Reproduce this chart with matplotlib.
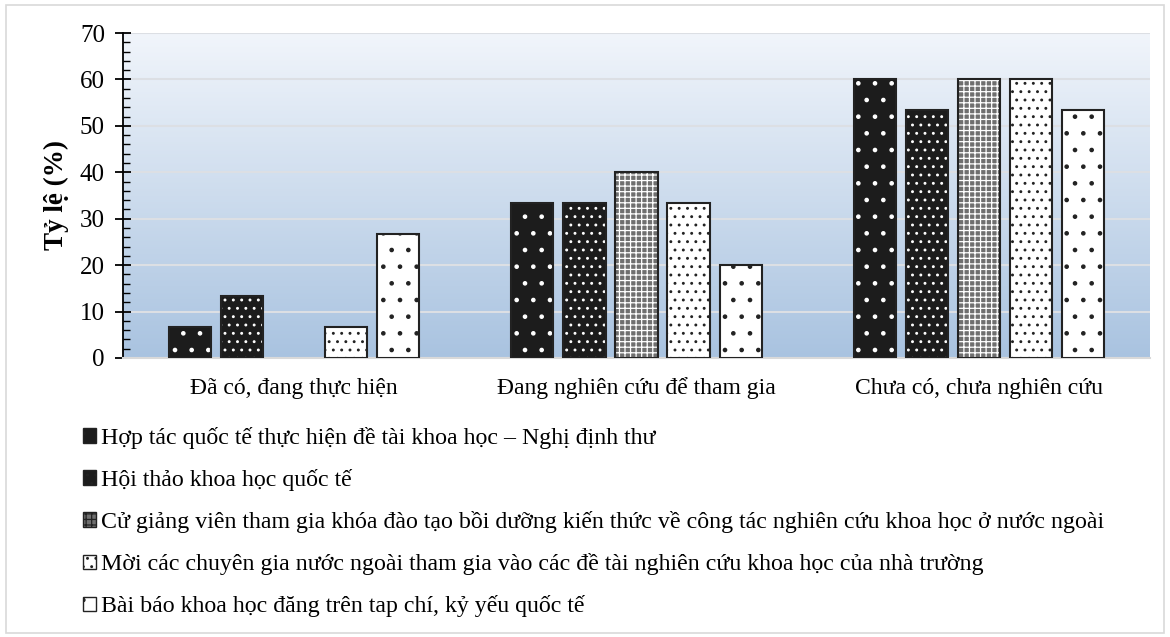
import matplotlib.pyplot as plt
import numpy as np
from matplotlib.patches import Patch, Rectangle
from matplotlib.colors import LinearSegmentedColormap

plt.rcParams['font.family'] = ['Liberation Serif', 'DejaVu Serif']
plt.rcParams['hatch.linewidth'] = 0.9

categories = ['Đã có, đang thực hiện', 'Đang nghiên cứu để tham gia', 'Chưa có, chưa nghiên cứu']
series_names = [
    'Hợp tác quốc tế thực hiện đề tài khoa học – Nghị định thư',
    'Hội thảo khoa học quốc tế',
    'Cử giảng viên tham gia khóa đào tạo bồi dưỡng kiến thức về công tác nghiên cứu khoa học ở nước ngoài',
    'Mời các chuyên gia nước ngoài tham gia vào các đề tài nghiên cứu khoa học của nhà trường',
    'Bài báo khoa học đăng trên tap chí, kỷ yếu quốc tế',
]
values = [
    [6.67, 33.33, 60.0],
    [13.33, 33.33, 53.33],
    [0.0, 40.0, 60.0],
    [6.67, 33.33, 60.0],
    [26.67, 20.0, 53.33],
]
y_ticks = [0, 10, 20, 30, 40, 50, 60, 70]

# face colour, hatch, hatch colour
styles = [
    ('#1c1c1c', '.', 'white'),
    ('#1c1c1c', '..', 'white'),
    ('#6f6f6f', '+++', 'white'),
    ('white', '..', '#222222'),
    ('white', '.', '#222222'),
]

fig = plt.figure(figsize=(11.7, 6.37), dpi=100)
fig.patches.append(Rectangle((0.005, 0.007), 0.99, 0.985, transform=fig.transFigure,
                             fill=False, edgecolor='#d9d9d9', linewidth=1.2))
ax = fig.add_axes([123 / 1170, 1 - 358 / 637, (1150 - 123) / 1170, (358 - 33) / 637])

# gradient background
cmap = LinearSegmentedColormap.from_list('bg', ['#a9c3e0', '#f1f5fb'])
grad = np.linspace(0, 1, 256).reshape(-1, 1)
ax.imshow(grad, cmap=cmap, aspect='auto', origin='lower',
          extent=[-0.5, 2.5, 0, 70], zorder=0)

x = np.arange(len(categories))
width = 0.123
step = 0.152
for i, (name, vals) in enumerate(zip(series_names, values)):
    fc, hatch, hc = styles[i]
    pos = x + (i - 2) * step
    vals = np.array(vals)
    ax.bar(pos, vals, width, color=fc, hatch=hatch, edgecolor=hc, linewidth=0, zorder=3)
    keep = vals > 0
    ax.bar(pos[keep], vals[keep], width, fill=False, edgecolor='#222222', linewidth=1.5, zorder=4)

ax.set_xlim(-0.5, 2.5)
ax.set_ylim(0, 70)
ax.set_yticks(y_ticks)
ax.set_yticks(np.arange(0, 71, 2), minor=True)
ax.yaxis.grid(True, color='#dcdfe4', linewidth=1.5, zorder=1)
ax.set_axisbelow(True)
ax.tick_params(axis='y', which='major', direction='inout', length=12, width=1.3, labelsize=18, pad=7)
ax.tick_params(axis='y', which='minor', direction='in', length=5, width=1.0)
ax.set_xticks(x)
ax.set_xticklabels(categories, fontsize=17, va='baseline')
ax.tick_params(axis='x', length=0, pad=26)
for s in ['top', 'right']:
    ax.spines[s].set_visible(False)
ax.spines['bottom'].set_color('#d9d9d9')
ax.spines['bottom'].set_linewidth(1.5)
ax.spines['left'].set_linewidth(1.3)
ax.set_ylabel('Tỷ lệ (%)', fontsize=19.5, fontweight='bold', labelpad=8)

handles = []
for fc, hatch, hc in styles:
    handles.append(Patch(facecolor=fc, hatch=hatch, edgecolor='#222222', linewidth=1.0))
fig.legend(handles, series_names, loc='upper left', bbox_to_anchor=(83 / 1170, 1 - 427 / 637),
           frameon=False, fontsize=17.2, ncol=1, handlelength=0.55, handleheight=0.55,
           handletextpad=0.2, labelspacing=0.84, borderpad=0, borderaxespad=0)

fig.savefig('out.png', dpi=100, facecolor='white')
